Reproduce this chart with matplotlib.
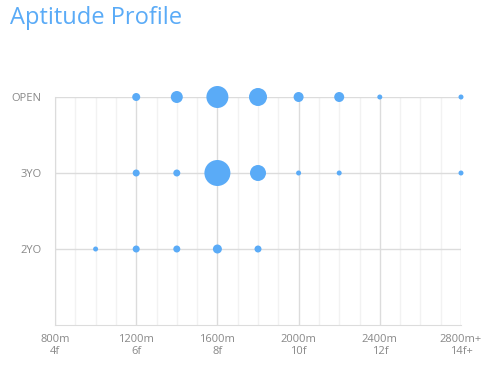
import matplotlib.pyplot as plt
from matplotlib.ticker import MultipleLocator

# Aptitude data: distance (m) per category, marker radius (px) per point
categories = ['2YO', '3YO', 'OPEN']
open_dist = [1200, 1400, 1600, 1800, 2000, 2200, 2400, 2800]
open_size = [4, 6, 11, 9, 5, 5, 2.5, 2.5]
three_dist = [1200, 1400, 1600, 1800, 2000, 2200, 2800]
three_size = [3.5, 3.5, 13, 8, 2.5, 2.5, 2.5]
two_dist = [1000, 1200, 1400, 1600, 1800]
two_size = [2.5, 3.5, 3.5, 4.5, 3.5]
tick_vals = [800, 1200, 1600, 2000, 2400, 2800]
tick_labels = ['800m\n4f', '1200m\n6f', '1600m\n8f', '2000m\n10f', '2400m\n12f', '2800m+\n14f+']

plt.rcParams['font.family'] = ['Open Sans', 'DejaVu Sans']

dpi = 100
fig = plt.figure(figsize=(4.98, 3.67), dpi=dpi)
ax = fig.add_axes([55 / 498, 1 - 325 / 367, (461 - 55) / 498, (325 - 97) / 367])

blue = '#5aabf7'
rows = [(two_dist, two_size), (three_dist, three_size), (open_dist, open_size)]
for i, (d, r) in enumerate(rows):
    s = [(2 * v * 72 / dpi) ** 2 for v in r]
    ax.scatter(d, [i + 1] * len(d), s=s, color=blue, edgecolors='none', zorder=3, clip_on=False)

ax.set_xlim(800, 2800)
ax.set_ylim(0, 3)
ax.set_xticks(tick_vals)
ax.set_xticklabels(tick_labels, linespacing=1.1)
ax.set_yticks([1, 2, 3])
ax.set_yticklabels(categories)
ax.xaxis.set_minor_locator(MultipleLocator(100))

ax.grid(which='major', axis='both', color='#dcdcdc', lw=1)
ax.grid(which='minor', axis='x', color='#f2f2f2', lw=1)
ax.set_axisbelow(True)
ax.tick_params(which='both', length=0, colors='#888888', labelsize=8)
ax.tick_params(axis='x', pad=6.5)
ax.tick_params(axis='y', pad=9.5)

for side in ['top', 'right']:
    ax.spines[side].set_visible(False)
ax.spines['left'].set_color('#dcdcdc')
ax.spines['bottom'].set_color('#dcdcdc')

fig.text(10 / 498, 1 - 18 / 367, 'Aptitude Profile', color='#5aabf7', fontsize=17, va='center', ha='left')

fig.savefig('out.png', dpi=dpi)
